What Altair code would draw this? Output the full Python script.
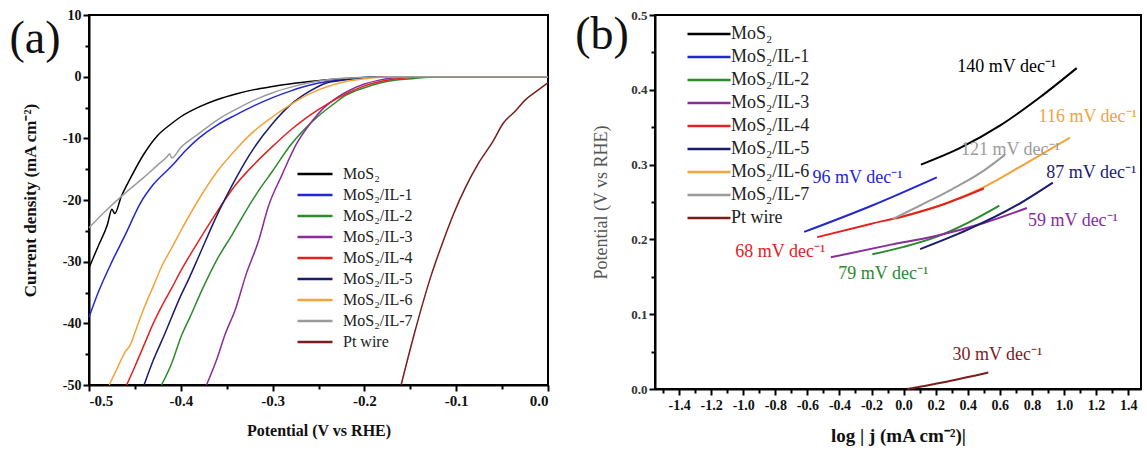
import altair as alt
import pandas as pd

SERIES = ["MoS₂", "MoS₂/IL-1", "MoS₂/IL-2", "MoS₂/IL-3", "MoS₂/IL-4",
          "MoS₂/IL-5", "MoS₂/IL-6", "MoS₂/IL-7", "Pt wire"]
COLORS = ["#000000", "#2327d2", "#2b8a2b", "#8a2c9a", "#e3211f",
          "#1b1b6e", "#f2a33a", "#9b9b9b", "#7b1d1d"]

# ---------------- panel (a): polarization curves ----------------
V_MOS2 = [-0.5, -0.49, -0.48, -0.475, -0.472, -0.465, -0.455, -0.44, -0.425, -0.41, -0.4, -0.38, -0.36,
          -0.34, -0.32, -0.3, -0.28, -0.26, -0.24, -0.22, -0.2, -0.18, -0.15, 0.0]
J_MOS2 = [-31, -27.5, -24, -21.5, -22.2, -19.5, -16.5, -12.5, -9.5, -7.6, -6.5, -4.9, -3.7,
          -2.8, -2.1, -1.6, -1.15, -0.8, -0.5, -0.3, -0.15, -0.05, 0, 0]

V_IL1 = [-0.5, -0.49, -0.475, -0.46, -0.444, -0.43, -0.41, -0.395, -0.379, -0.36, -0.34, -0.32, -0.3,
         -0.28, -0.26, -0.24, -0.22, -0.2, -0.18, -0.16, 0.0]
J_IL1 = [-39, -35, -30, -25.5, -20.5, -17.5, -14.5, -12.0, -9.8, -7.8, -6.2, -4.7, -3.4,
         -2.3, -1.4, -0.8, -0.4, -0.15, -0.05, 0, 0]

V_IL2 = [-0.421, -0.41, -0.399, -0.39, -0.376, -0.36, -0.344, -0.33, -0.313, -0.3, -0.282, -0.265, -0.251,
         -0.235, -0.22, -0.2, -0.185, -0.165, -0.146, -0.13, -0.11, 0.0]
J_IL2 = [-50, -46.5, -41.9, -39, -34.3, -29.5, -25.6, -22, -18, -15.3, -11.4, -8.5, -6.5,
         -4.6, -3.0, -1.8, -1.1, -0.55, -0.3, -0.1, 0, 0]

V_IL3 = [-0.372, -0.36, -0.352, -0.34, -0.329, -0.315, -0.305, -0.29, -0.274, -0.26, -0.243, -0.23,
         -0.216, -0.2, -0.185, -0.17, -0.15, 0.0]
J_IL3 = [-50, -45.5, -41.9, -37.5, -32.1, -26.5, -21.2, -16, -10.9, -7.8, -4.9, -3.4,
         -2.2, -1.2, -0.6, -0.2, 0, 0]

V_IL4 = [-0.459, -0.45, -0.44, -0.43, -0.42, -0.41, -0.4, -0.38, -0.36, -0.34, -0.32, -0.3, -0.28,
         -0.26, -0.24, -0.22, -0.2, -0.18, -0.16, -0.14, -0.12, 0.0]
J_IL4 = [-50, -47, -43.5, -40, -37, -34.3, -31.5, -26.5, -21.8, -17.5, -14.2, -11.3, -8.6,
         -6.3, -4.4, -2.8, -1.5, -0.7, -0.25, -0.05, 0, 0]

V_IL5 = [-0.44, -0.43, -0.418, -0.4, -0.391, -0.38, -0.36, -0.34, -0.329, -0.32, -0.3, -0.28, -0.26,
         -0.243, -0.22, -0.204, -0.18, 0.0]
J_IL5 = [-50, -46, -41.9, -35.5, -32.7, -29, -22.3, -16.5, -13.6, -11.5, -7.6, -4.5, -2.4,
         -1.1, -0.5, -0.2, 0, 0]

V_IL6 = [-0.478, -0.47, -0.46, -0.455, -0.45, -0.44, -0.43, -0.42, -0.41, -0.4, -0.38, -0.36, -0.34,
         -0.32, -0.3, -0.28, -0.26, -0.24, -0.22, -0.2, -0.18, -0.15, 0.0]
J_IL6 = [-50, -47.5, -44.5, -43.5, -41.5, -37.5, -34, -30.5, -27.8, -25, -19.8, -15.3, -11.8,
         -8.8, -6.5, -4.5, -2.8, -1.6, -0.8, -0.35, -0.1, 0, 0]

V_IL7 = [-0.5, -0.48, -0.46, -0.44, -0.425, -0.415, -0.412, -0.41, -0.4, -0.38, -0.36, -0.34, -0.32,
         -0.3, -0.28, -0.26, -0.24, -0.22, -0.2, -0.17, 0.0]
J_IL7 = [-24.5, -21.5, -18.8, -16.3, -14.3, -13.0, -12.5, -13.2, -11.5, -9.2, -7.0, -5.3, -3.8,
         -2.6, -1.7, -1.0, -0.5, -0.25, -0.1, 0, 0]

V_PT = [-0.16, -0.146, -0.127, -0.115, -0.103, -0.09, -0.076, -0.06, -0.049, -0.035, -0.025, -0.012, 0.0]
J_PT = [-50, -41.9, -32.1, -27, -22.3, -18, -14.1, -10.5, -7.6, -5.5, -3.8, -2.3, -1.0]

LSV = [(V_MOS2, J_MOS2), (V_IL1, J_IL1), (V_IL2, J_IL2), (V_IL3, J_IL3), (V_IL4, J_IL4),
       (V_IL5, J_IL5), (V_IL6, J_IL6), (V_IL7, J_IL7), (V_PT, J_PT)]

# ---------------- panel (b): Tafel plots ----------------
T_MOS2 = ([0.108, 0.35, 0.6, 0.85, 1.079], [0.300, 0.322, 0.352, 0.39, 0.429])
T_IL1 = ([-0.62, -0.2, 0.207], [0.210, 0.245, 0.283])
T_IL2 = ([-0.195, 0.0, 0.2, 0.4, 0.597], [0.180, 0.190, 0.203, 0.222, 0.245])
T_IL3 = ([-0.454, -0.1, 0.207, 0.5, 0.769], [0.176, 0.192, 0.205, 0.222, 0.242])
T_IL4 = ([-0.539, -0.2, 0.0, 0.25, 0.5], [0.203, 0.221, 0.231, 0.247, 0.268])
T_IL5 = ([0.103, 0.4, 0.7, 0.93], [0.187, 0.213, 0.245, 0.276])
T_IL6 = ([-0.05, 0.25, 0.5, 0.75, 1.037], [0.228, 0.247, 0.270, 0.300, 0.336])
T_IL7 = ([-0.069, 0.1, 0.3, 0.5, 0.631], [0.227, 0.245, 0.267, 0.292, 0.313])
T_PT = ([0.023, 0.25, 0.528], [0.0, 0.009, 0.022])
TAFEL = [T_MOS2, T_IL1, T_IL2, T_IL3, T_IL4, T_IL5, T_IL6, T_IL7, T_PT]
TAFEL_DRAW_ORDER = [0, 1, 2, 3, 6, 4, 5, 7, 8]

SLOPE_TEXT = ["140 mV dec⁻¹", "96 mV dec⁻¹", "79 mV dec⁻¹", "59 mV dec⁻¹", "68 mV dec⁻¹",
              "87 mV dec⁻¹", "116 mV dec⁻¹", "121 mV dec⁻¹", "30 mV dec⁻¹"]
SLOPE_X = [0.643, -0.287, -0.126, 1.056, -0.769, 1.17, 1.148, 0.666, 0.585]
SLOPE_Y = [0.430, 0.282, 0.154, 0.225, 0.183, 0.289, 0.364, 0.320, 0.046]

FONT = "Liberation Serif"

rows = []
for name, (vs, js) in zip(SERIES, LSV):
    for i, (v, j) in enumerate(zip(vs, js)):
        rows.append({"series": name, "v": v, "j": j, "i": i})
lsv_df = pd.DataFrame(rows)

rows = []
for k in TAFEL_DRAW_ORDER:
    xs, ys = TAFEL[k]
    for i, (x, y) in enumerate(zip(xs, ys)):
        rows.append({"series": SERIES[k], "x": x, "y": y, "i": i})
tafel_df = pd.DataFrame(rows)

ann_df = pd.DataFrame({"series": SERIES, "label": SLOPE_TEXT, "x": SLOPE_X, "y": SLOPE_Y})

color_scale = alt.Scale(domain=SERIES, range=COLORS)

# ---------- panel a ----------
A_XMAJ = [-0.5, -0.4, -0.3, -0.2, -0.1, 0.0]
A_XMIN = [-0.45, -0.35, -0.25, -0.15, -0.05]
A_YMAJ = [-50, -40, -30, -20, -10, 0, 10]
A_YMIN = [-45, -35, -25, -15, -5, 5]

xa = alt.Scale(domain=[-0.5, 0.0], nice=False, zero=False)
ya = alt.Scale(domain=[-50, 10], nice=False, zero=False)

legend_a = alt.Legend(
    title=None, orient="none", legendX=218, legendY=151, padding=0,
    symbolType="M-3.5,0H3.5", symbolSize=100, symbolStrokeWidth=2.5,
    labelFont=FONT, labelFontSize=16, labelColor="#222", labelOffset=20,
    rowPadding=5, labelLimit=0,
)

a_lines = alt.Chart(lsv_df).mark_line(strokeWidth=1.5, interpolate="monotone").encode(
    x=alt.X("v:Q", scale=xa, axis=alt.Axis(
        values=A_XMAJ, format=".1f", title="Potential (V vs RHE)", tickSize=6, tickWidth=2,
        labelFontSize=15, labelFontWeight="bold", labelPadding=2, titleFontSize=16,
        titleFontWeight="bold", titlePadding=14, grid=False)),
    y=alt.Y("j:Q", scale=ya, axis=alt.Axis(
        values=A_YMAJ, format="d", title="Current density (mA cm⁻²)", tickSize=6, tickWidth=2,
        labelFontSize=14, labelFontWeight="bold", labelPadding=2, titleFontSize=17,
        titleFontWeight="bold", titlePadding=23, grid=False)),
    color=alt.Color("series:N", scale=color_scale, legend=legend_a, sort=SERIES),
    detail="series:N",
    order="i:Q",
)

a_minor = alt.Chart(pd.DataFrame({"v": A_XMIN[:1], "j": A_YMIN[:1]})).mark_point(opacity=0).encode(
    x=alt.X("v:Q", scale=xa, axis=alt.Axis(values=A_XMIN, labels=False, title=None, tickSize=4,
                                           tickWidth=2, domain=False, grid=False, orient="bottom")),
    y=alt.Y("j:Q", scale=ya, axis=alt.Axis(values=A_YMIN, labels=False, title=None, tickSize=4,
                                           tickWidth=2, domain=False, grid=False, orient="left")),
)

a_label = alt.Chart(pd.DataFrame({"t": ["(a)"]})).mark_text(
    font=FONT, fontSize=46, align="center", baseline="middle", color="#111"
).encode(text="t:N", x=alt.value(-54), y=alt.value(24))

panel_a = alt.layer(a_lines, a_minor, a_label).resolve_axis(x="independent", y="independent").properties(
    width=459, height=370)

# ---------- panel b ----------
B_XMAJ = [-1.4, -1.2, -1.0, -0.8, -0.6, -0.4, -0.2, 0.0, 0.2, 0.4, 0.6, 0.8, 1.0, 1.2, 1.4]
B_XMIN = [-1.5, -1.3, -1.1, -0.9, -0.7, -0.5, -0.3, -0.1, 0.1, 0.3, 0.5, 0.7, 0.9, 1.1, 1.3]
B_YMAJ = [0.0, 0.1, 0.2, 0.3, 0.4, 0.5]
B_YMIN = [0.05, 0.15, 0.25, 0.35, 0.45]

xb = alt.Scale(domain=[-1.55, 1.48], nice=False, zero=False)
yb = alt.Scale(domain=[0.0, 0.5], nice=False, zero=False)

legend_b = alt.Legend(
    title=None, orient="none", legendX=45, legendY=10, padding=0,
    symbolType="M-4.3,0H4.3", symbolSize=100, symbolStrokeWidth=2.5,
    labelFont=FONT, labelFontSize=18, labelColor="#222", labelOffset=13,
    rowPadding=5, labelLimit=0,
)

b_lines = alt.Chart(tafel_df).mark_line(strokeWidth=2, interpolate="monotone").encode(
    x=alt.X("x:Q", scale=xb, axis=alt.Axis(
        values=B_XMAJ, format=".1f", title="log | j (mA cm⁻²)|", tickSize=6, tickWidth=2,
        labelFontSize=14, labelFontWeight="bold", labelPadding=3, titleFontSize=19,
        titleFontWeight="bold", titlePadding=14, grid=False)),
    y=alt.Y("y:Q", scale=yb, axis=alt.Axis(
        values=B_YMAJ, format=".1f", title="Potential (V vs RHE)", tickSize=6, tickWidth=2,
        labelFontSize=13, labelFontWeight="bold", labelColor="#333", labelPadding=2,
        titleFontSize=18, titleFontWeight="normal", titleColor="#555", titlePadding=20, grid=False)),
    color=alt.Color("series:N", scale=color_scale, legend=legend_b, sort=SERIES),
    detail="series:N",
    order="i:Q",
)

b_minor = alt.Chart(pd.DataFrame({"x": B_XMIN[:1], "y": B_YMIN[:1]})).mark_point(opacity=0).encode(
    x=alt.X("x:Q", scale=xb, axis=alt.Axis(values=B_XMIN, labels=False, title=None, tickSize=4,
                                           tickWidth=2, domain=False, grid=False, orient="bottom")),
    y=alt.Y("y:Q", scale=yb, axis=alt.Axis(values=B_YMIN, labels=False, title=None, tickSize=4,
                                           tickWidth=2, domain=False, grid=False, orient="left")),
)

b_text = alt.Chart(ann_df).mark_text(font=FONT, fontSize=18, align="center", baseline="middle").encode(
    x=alt.X("x:Q", scale=xb, axis=None),
    y=alt.Y("y:Q", scale=yb, axis=None),
    text="label:N",
    color=alt.Color("series:N", scale=color_scale, legend=None),
)

b_label = alt.Chart(pd.DataFrame({"t": ["(b)"]})).mark_text(
    font=FONT, fontSize=46, align="center", baseline="middle", color="#111"
).encode(text="t:N", x=alt.value(-53), y=alt.value(20))

panel_b = alt.layer(b_lines, b_minor, b_text, b_label).resolve_axis(
    x="independent", y="independent").properties(width=486, height=374)

chart = alt.hconcat(panel_a, panel_b, spacing=22).resolve_scale(color="independent").resolve_legend(
    color="independent"
).properties(
    padding={"left": 8, "top": 7, "right": 0, "bottom": 0}
).configure(
    font=FONT,
    locale={"number": {"decimal": ".", "thousands": ",", "grouping": [3],
                       "currency": ["", ""], "minus": "-"}},
).configure_view(
    stroke="#000", strokeWidth=2
).configure_axis(
    domainColor="#000", domainWidth=2, tickColor="#000", labelColor="#111", titleColor="#111",
    labelFont=FONT, titleFont=FONT
)

chart.save("out.html", embed_options={"renderer": "svg", "actions": False})
